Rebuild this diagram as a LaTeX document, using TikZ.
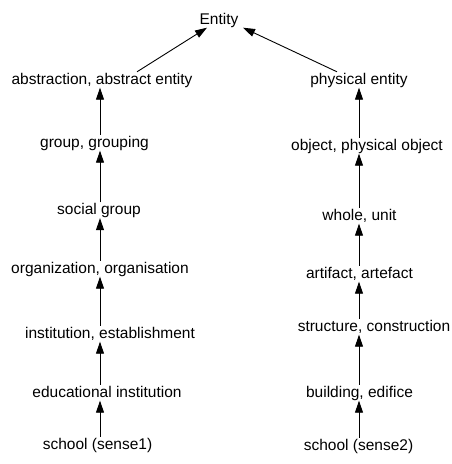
\documentclass[tikz,border=0pt]{standalone}
\usepackage{fontspec}
\setmainfont{Liberation Sans}
\usetikzlibrary{arrows.meta}
\begin{document}
\begin{tikzpicture}[x=1pt,y=-1pt,
  lbl/.style={anchor=base,inner sep=0pt,text height=12pt,text depth=3.5pt,font=\fontsize{15.5}{19}\selectfont},
  arr/.style={-{Triangle[length=12pt,width=8pt]},line width=0.9pt}]
\useasboundingbox (0,0) rectangle (452,464);
\coordinate (colL) at (100,0);
\coordinate (colR) at (359,0);
\node[lbl] (ent) at (219,24) {Entity};
\node[lbl] (abs) at (102,84) {abstraction, abstract entity};
\node[lbl] (phys) at (359,84) {physical entity};
\node[lbl] (grp) at (94.5,147) {group, grouping};
\node[lbl] (obj) at (367,150) {object, physical object};
\node[lbl] (soc) at (99,214.5) {social group};
\node[lbl] (whole) at (359.5,220) {whole, unit};
\node[lbl] (org) at (100,273) {organization, organisation};
\node[lbl] (art) at (359.5,278) {artifact, artefact};
\node[lbl] (inst) at (110,338) {institution, establishment};
\node[lbl] (struct) at (374,331) {structure, construction};
\node[lbl] (edu) at (107,397) {educational institution};
\node[lbl] (bld) at (359.5,397) {building, edifice};
\node[lbl] (sch1) at (97.5,449) {school (sense1)};
\node[lbl] (sch2) at (358.5,450) {school (sense2)};
\draw[arr] ([xshift=35pt]abs.north) -- ([xshift=-12pt]ent.south);
\draw[arr] ([xshift=-22pt]phys.north) -- ([xshift=24pt]ent.south);
\draw[arr] (grp.north -| colL) -- (abs.south -| colL);
\draw[arr] (soc.north -| colL) -- (grp.south -| colL);
\draw[arr] (org.north -| colL) -- (soc.south -| colL);
\draw[arr] (inst.north -| colL) -- (org.south -| colL);
\draw[arr] (edu.north -| colL) -- (inst.south -| colL);
\draw[arr] (sch1.north -| colL) -- (edu.south -| colL);
\draw[arr] (obj.north -| colR) -- (phys.south -| colR);
\draw[arr] (whole.north -| colR) -- (obj.south -| colR);
\draw[arr] (art.north -| colR) -- (whole.south -| colR);
\draw[arr] (struct.north -| colR) -- (art.south -| colR);
\draw[arr] (bld.north -| colR) -- (struct.south -| colR);
\draw[arr] (sch2.north -| colR) -- (bld.south -| colR);
\end{tikzpicture}
\end{document}
